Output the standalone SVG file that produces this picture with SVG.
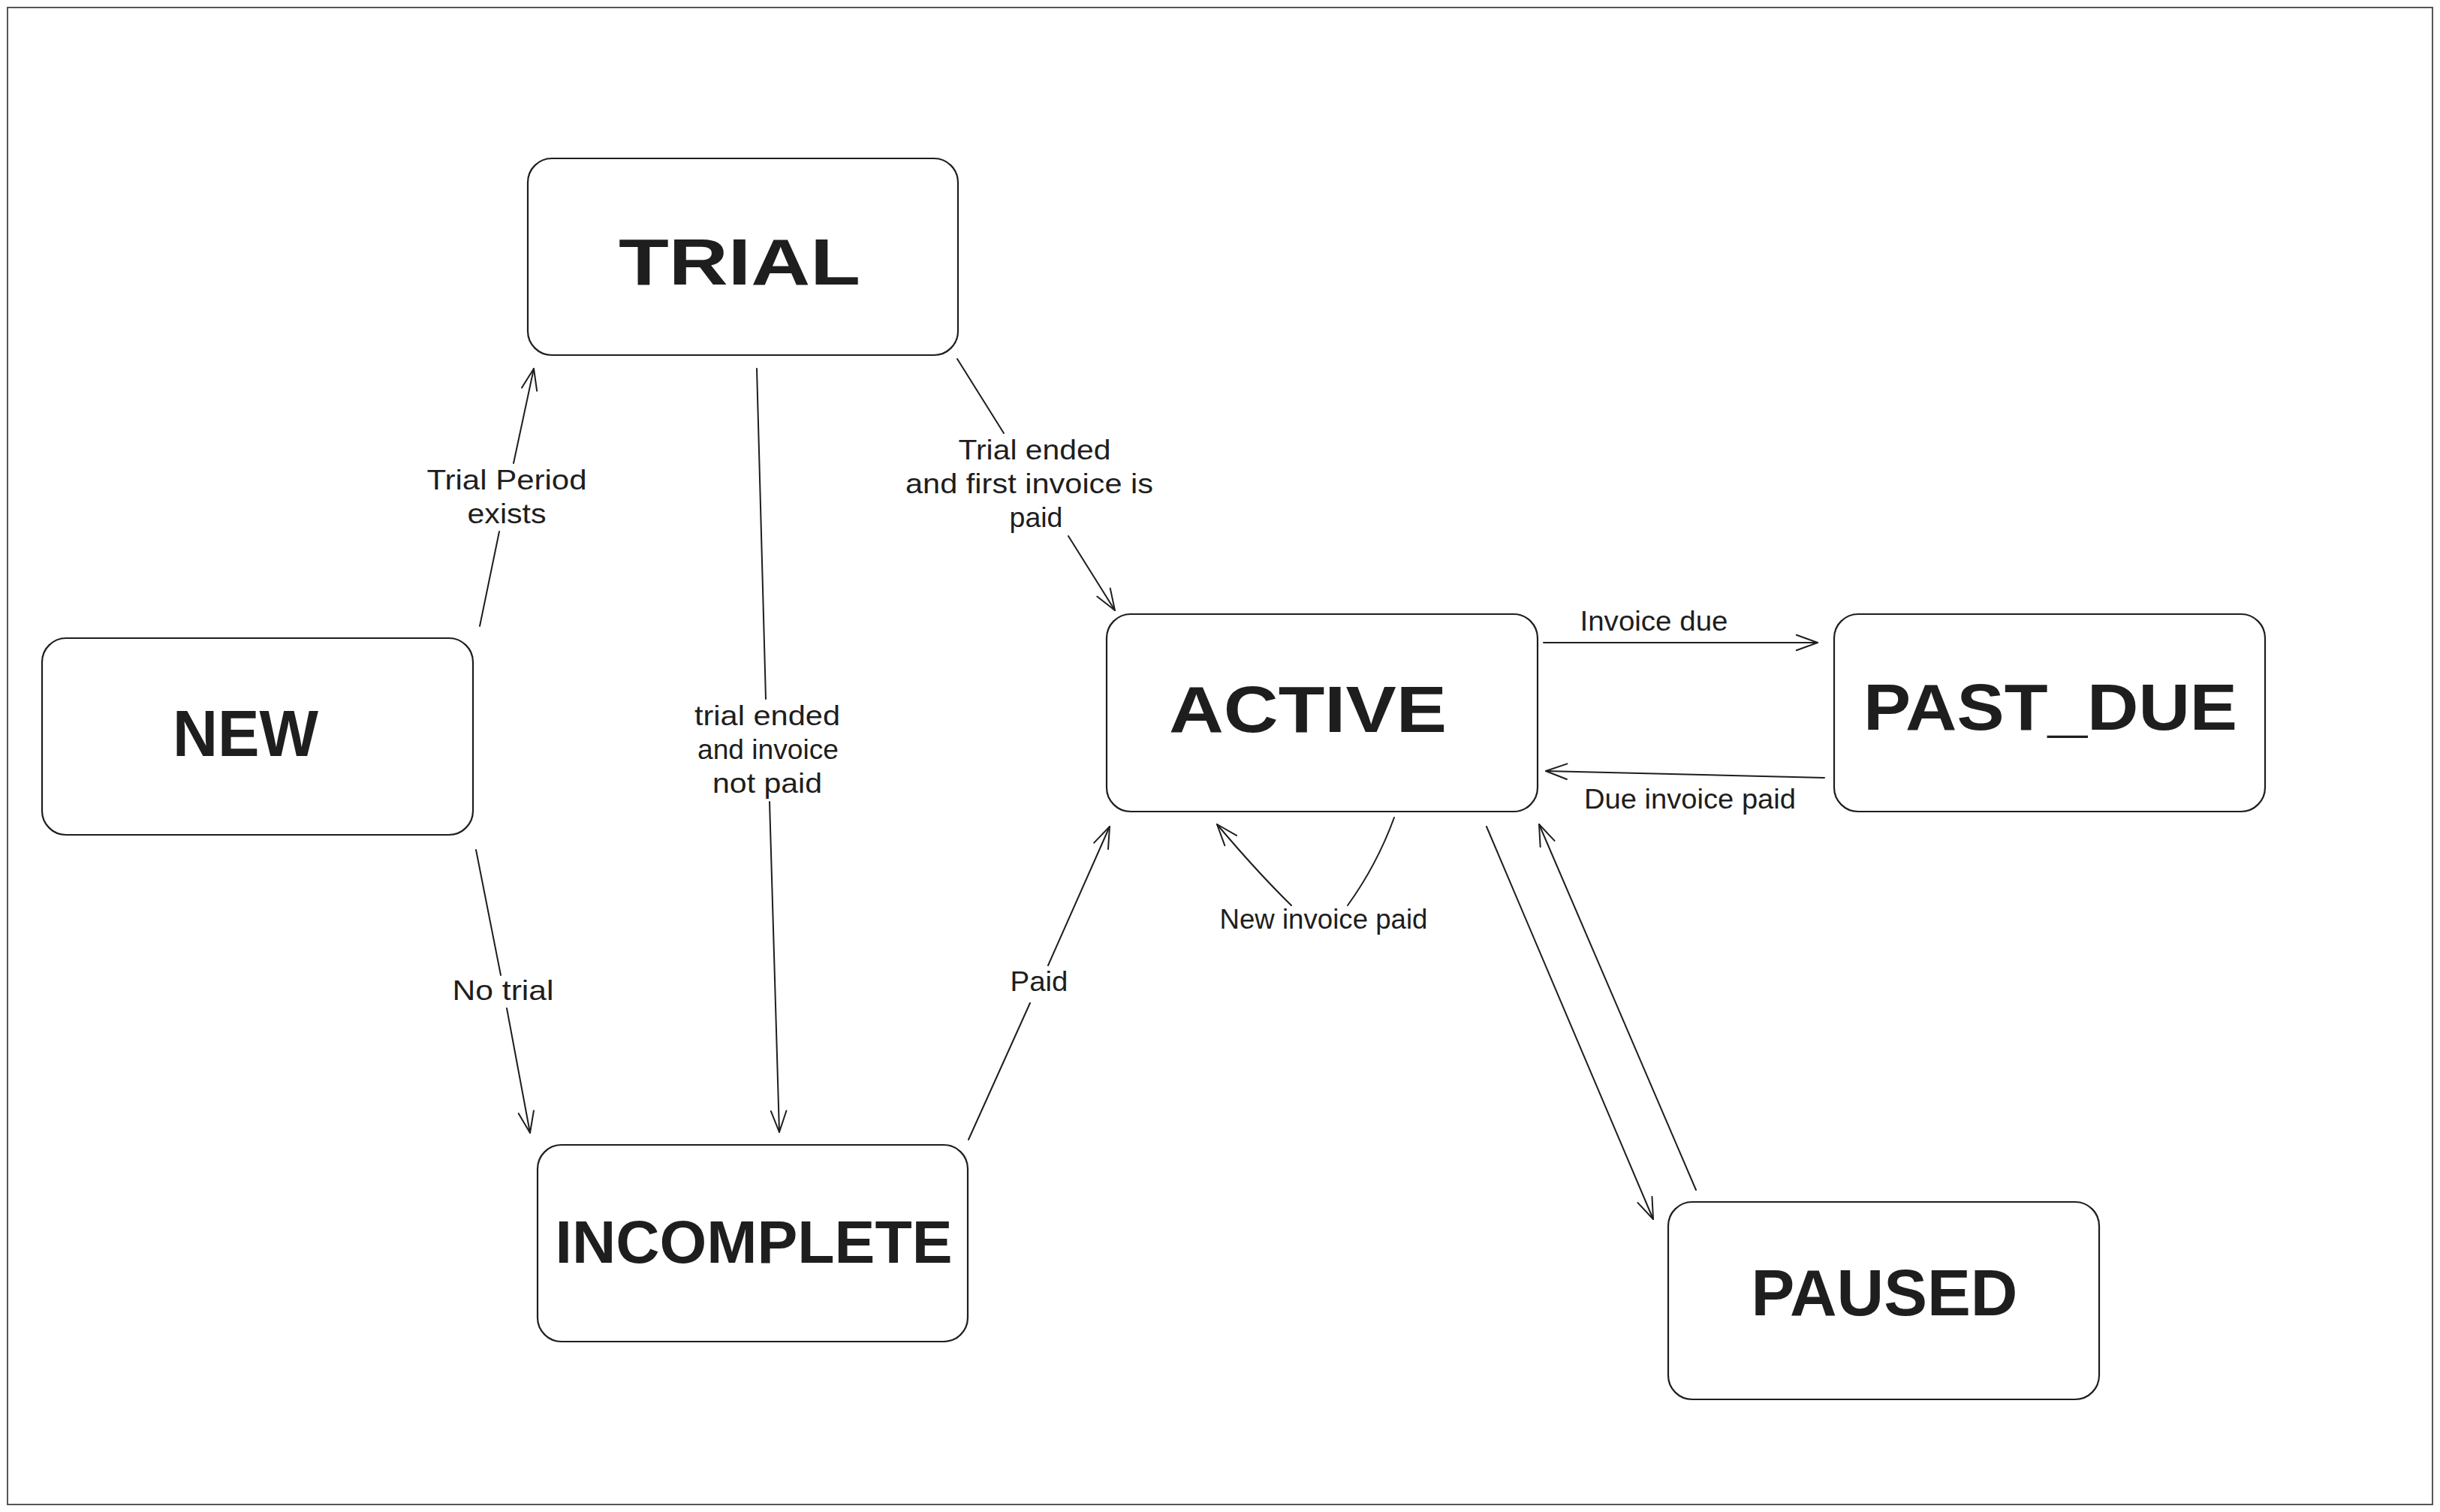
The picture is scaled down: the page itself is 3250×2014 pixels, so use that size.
<svg xmlns="http://www.w3.org/2000/svg" width="3250" height="2014" viewBox="0 0 3250 2014">
  <defs>
    <marker id="arr" markerUnits="userSpaceOnUse" markerWidth="40" markerHeight="40" refX="0" refY="0" orient="auto" overflow="visible">
      <path d="M-28.2,-10.3 L0,0 L-28.2,10.3" fill="none" stroke="#1e1e1e" stroke-width="2" stroke-linecap="round" stroke-linejoin="round"/>
    </marker>
  </defs>
  <style>
    .box { fill: #ffffff; stroke: #1e1e1e; stroke-width: 2.2; }
    .title { font-family: "Liberation Sans", "DejaVu Sans", sans-serif; font-weight: bold; font-size: 88px; fill: #1e1e1e; text-anchor: middle; }
    .lbl { font-family: "Liberation Sans", "DejaVu Sans", sans-serif; font-size: 36px; fill: #1e1e1e; text-anchor: middle; }
    .edge { fill: none; stroke: #1e1e1e; stroke-width: 2; stroke-linecap: round; }
  </style>
  <rect x="0" y="0" width="3250" height="2014" fill="#ffffff"/>
  <rect x="10" y="10" width="3230" height="1994" fill="none" stroke="#555555" stroke-width="2"/>

  <g id="node-trial">
    <rect class="box" x="703" y="211" width="573" height="262" rx="32" ry="32"/>
    <text class="title" x="985" y="379" textLength="322" lengthAdjust="spacingAndGlyphs">TRIAL</text>
  </g>
  <g id="node-new">
    <rect class="box" x="56" y="850" width="574" height="262" rx="32" ry="32"/>
    <text class="title" x="327" y="1007" textLength="194" lengthAdjust="spacingAndGlyphs">NEW</text>
  </g>
  <g id="node-active">
    <rect class="box" x="1474" y="818" width="574" height="263" rx="32" ry="32"/>
    <text class="title" x="1742" y="975" textLength="370" lengthAdjust="spacingAndGlyphs">ACTIVE</text>
  </g>
  <g id="node-past-due">
    <rect class="box" x="2443" y="818" width="574" height="263" rx="32" ry="32"/>
    <text class="title" x="2731" y="972" textLength="498" lengthAdjust="spacingAndGlyphs">PAST_DUE</text>
  </g>
  <g id="node-paused">
    <rect class="box" x="2222" y="1601" width="574" height="263" rx="32" ry="32"/>
    <text class="title" x="2510" y="1752" textLength="355" lengthAdjust="spacingAndGlyphs">PAUSED</text>
  </g>
  <g id="node-incomplete">
    <rect class="box" x="716" y="1525" width="573" height="262" rx="32" ry="32"/>
    <text class="title" x="1004" y="1682" textLength="529" lengthAdjust="spacingAndGlyphs" style="font-size:80px">INCOMPLETE</text>
  </g>

  <g id="connectors">
    <path class="edge" d="M639,834 L665,708 M684,617 L711,491" marker-end="url(#arr)"/>
    <path class="edge" d="M1008,491 L1020,931 M1025,1068 L1038,1508" marker-end="url(#arr)"/>
    <path class="edge" d="M1275,478 L1337,577 M1423,714 L1485,813" marker-end="url(#arr)"/>
    <path class="edge" d="M634,1132 L667,1299 M675,1343 L706,1509" marker-end="url(#arr)"/>
    <path class="edge" d="M1290,1518 L1372,1336 M1396,1286 L1478,1101" marker-end="url(#arr)"/>
    <path class="edge" d="M2056,856 L2421,856" marker-end="url(#arr)"/>
    <path class="edge" d="M2430,1036 L2059,1027" marker-end="url(#arr)"/>
    <path class="edge" d="M1857,1089 Q1834,1152 1795,1206 M1720,1206 Q1675,1162 1621,1098" marker-end="url(#arr)"/>
    <path class="edge" d="M1980,1101 L2202,1624" marker-end="url(#arr)"/>
    <path class="edge" d="M2259,1585 L2050,1098" marker-end="url(#arr)"/>

    <text class="lbl" x="675" y="652" textLength="213" lengthAdjust="spacingAndGlyphs">Trial Period</text>
    <text class="lbl" x="675" y="697" textLength="105" lengthAdjust="spacingAndGlyphs">exists</text>
    <text class="lbl" x="1378" y="612" textLength="203" lengthAdjust="spacingAndGlyphs">Trial ended</text>
    <text class="lbl" x="1371" y="657" textLength="330" lengthAdjust="spacingAndGlyphs">and first invoice is</text>
    <text class="lbl" x="1380" y="702" textLength="71" lengthAdjust="spacingAndGlyphs">paid</text>
    <text class="lbl" x="1022" y="966" textLength="194" lengthAdjust="spacingAndGlyphs">trial ended</text>
    <text class="lbl" x="1023" y="1011" textLength="188" lengthAdjust="spacingAndGlyphs">and invoice</text>
    <text class="lbl" x="1022" y="1056" textLength="146" lengthAdjust="spacingAndGlyphs">not paid</text>
    <text class="lbl" x="670" y="1332" textLength="135" lengthAdjust="spacingAndGlyphs">No trial</text>
    <text class="lbl" x="1384" y="1320" textLength="77" lengthAdjust="spacingAndGlyphs">Paid</text>
    <text class="lbl" x="2203" y="840" textLength="197" lengthAdjust="spacingAndGlyphs">Invoice due</text>
    <text class="lbl" x="2251" y="1077" textLength="282" lengthAdjust="spacingAndGlyphs">Due invoice paid</text>
    <text class="lbl" x="1763" y="1237" textLength="277" lengthAdjust="spacingAndGlyphs">New invoice paid</text>
  </g>
</svg>
